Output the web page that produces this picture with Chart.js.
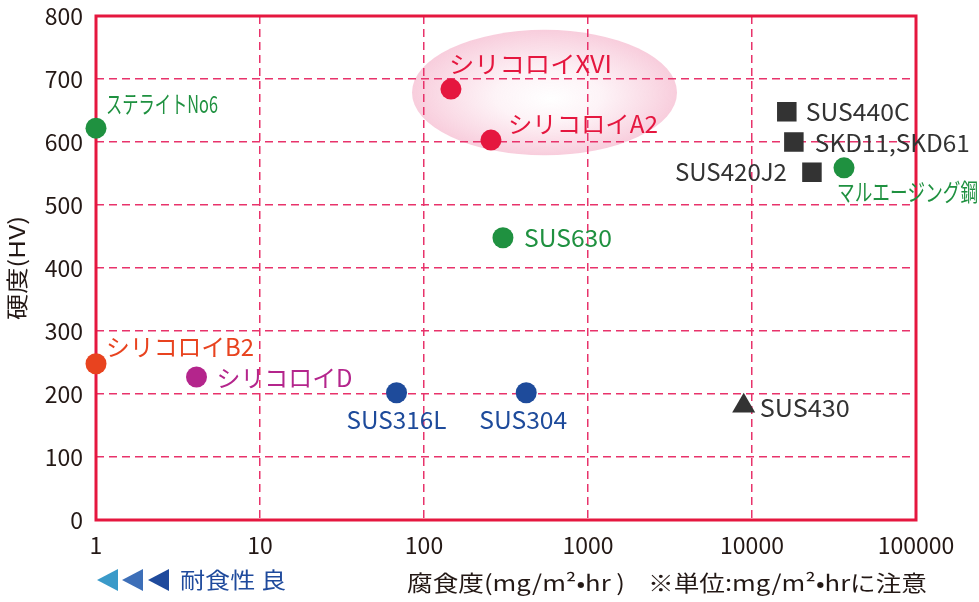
<!DOCTYPE html>
<html><head><meta charset="utf-8">
<script src="https://cdn.jsdelivr.net/npm/chart.js@4.4.0/dist/chart.umd.min.js"></script>
<style>html,body{margin:0;padding:0;background:#fff;}#wrap{width:979px;height:602px;}</style>
</head><body><div id="wrap"><canvas id="c" width="979" height="602"></canvas></div>
<script>
// ---- data ----
const materialNames = ['ステライトNo6','シリコロイXVI','シリコロイA2','SUS440C','SKD11,SKD61','SUS420J2','マルエージング鋼','SUS630','シリコロイB2','シリコロイD','SUS316L','SUS304','SUS430'];
const corrosionRates = [1, 146, 256, 16300, 18000, 23200, 36400, 303, 1, 4.1, 68, 420, 8900];
const hardnessHV = [622, 684, 603, 648, 600, 552, 559, 448, 248, 227, 202, 202, 181];
const markerKinds = ['circle','circle','circle','rect','rect','rect','circle','circle','circle','circle','circle','circle','triangle'];
const materialGroups = ['green','red','red','dark','dark','dark','green','green','orange','magenta','blue','blue','dark'];
const xTickValues = [1, 10, 100, 1000, 10000, 100000];
const yTickValues = [0, 100, 200, 300, 400, 500, 600, 700, 800];
const highlightRegion = { xMin: 84.5, xMax: 3490, yMin: 579, yMax: 778 };
const yAxisTitle = '硬度(HV)';
const xAxisTitle = '腐食度(mg/m²•hr )';
const unitNote = '※単位:mg/m²•hrに注意';
const goodNote = '耐食性 良';

// ---- styles ----
const FONT = "'Noto Sans CJK JP','Noto Sans',sans-serif";
const groupColors = { green:'#1f9140', red:'#e5173f', dark:'#333333', orange:'#e8431f', magenta:'#b4258c', blue:'#1e4b9b' };
const markerRadius = { circle: 10.5, rect: 13.8, triangle: 13.3 };
// label placement relative to marker: dx, dy, align, fitted width
const labelPlacement = [
  {dx:10, dy:-24, align:'left', w:112},
  {dx:-2, dy:-25, align:'left', w:163},
  {dx:17, dy:-16, align:'left', w:150},
  {dx:19, dy:0, align:'left', w:104},
  {dx:21, dy:1, align:'left', w:155},
  {dx:-25, dy:0, align:'right', w:112},
  {dx:-7, dy:24, align:'left', w:141},
  {dx:21, dy:0, align:'left', w:88},
  {dx:10, dy:-17, align:'left', w:148},
  {dx:20, dy:1, align:'left', w:136},
  {dx:0, dy:27, align:'center', w:100},
  {dx:-3, dy:27, align:'center', w:88},
  {dx:16, dy:2, align:'left', w:90}
];

function fitText(ctx, text, x, y, width, align) {
  const m = ctx.measureText(text).width;
  const s = width / m;
  const left = align === 'left' ? x : align === 'right' ? x - width : x - width / 2;
  ctx.save();
  ctx.translate(left, y);
  ctx.scale(s, 1);
  ctx.textAlign = 'left';
  ctx.textBaseline = 'middle';
  ctx.fillText(text, 0, 0);
  ctx.restore();
}

const highlightPlugin = {
  id: 'highlight',
  beforeDraw(chart) {
    const {ctx, scales:{x, y}} = chart;
    const x0 = x.getPixelForValue(highlightRegion.xMin), x1 = x.getPixelForValue(highlightRegion.xMax);
    const y0 = y.getPixelForValue(highlightRegion.yMax), y1 = y.getPixelForValue(highlightRegion.yMin);
    const cx = (x0 + x1) / 2, cy = (y0 + y1) / 2, rx = (x1 - x0) / 2, ry = (y1 - y0) / 2;
    ctx.save();
    ctx.translate(cx, cy);
    ctx.scale(rx, ry);
    const g = ctx.createRadialGradient(0.05, 0.1, 0, 0, 0, 1);
    g.addColorStop(0, 'rgba(232,90,140,0)');
    g.addColorStop(0.4, 'rgba(232,90,140,0.07)');
    g.addColorStop(0.8, 'rgba(232,90,140,0.22)');
    g.addColorStop(1, 'rgba(232,90,140,0.3)');
    ctx.beginPath();
    ctx.arc(0, 0, 1, 0, Math.PI * 2);
    ctx.fillStyle = g;
    ctx.fill();
    ctx.restore();
  }
};

const framePlugin = {
  id: 'frame',
  beforeDatasetsDraw(chart) {
    const {ctx, chartArea:a} = chart;
    ctx.save();
    ctx.strokeStyle = '#e5173f';
    ctx.lineWidth = 3;
    ctx.strokeRect(a.left, a.top, a.right - a.left, a.bottom - a.top);
    ctx.restore();
  }
};

const labelsPlugin = {
  id: 'pointLabels',
  afterDatasetsDraw(chart) {
    const ctx = chart.ctx;
    const meta = chart.getDatasetMeta(0);
    ctx.save();
    ctx.font = `24px ${FONT}`;
    meta.data.forEach((pt, i) => {
      const p = labelPlacement[i];
      ctx.fillStyle = groupColors[materialGroups[i]];
      fitText(ctx, materialNames[i], pt.x + p.dx, pt.y + p.dy, p.w, p.align);
    });
    ctx.restore();
  }
};

const annotationsPlugin = {
  id: 'notes',
  afterDraw(chart) {
    const {ctx} = chart;
    ctx.save();
    ctx.fillStyle = '#231815';
    ctx.font = `22px ${FONT}`;
    ctx.save();
    ctx.translate(17, 268);
    ctx.rotate(-Math.PI / 2);
    fitText(ctx, yAxisTitle, 0, 0, 104, 'center');
    ctx.restore();
    fitText(ctx, xAxisTitle, 407, 583, 218, 'left');
    fitText(ctx, unitNote, 648, 583, 279, 'left');
    const triColors = ['#3a9ac9', '#3d6fb8', '#1f4a9c'];
    const triLeft = [97, 122, 148];
    triLeft.forEach((l, i) => {
      ctx.beginPath();
      ctx.moveTo(l, 580);
      ctx.lineTo(l + 21, 569);
      ctx.lineTo(l + 21, 591);
      ctx.closePath();
      ctx.fillStyle = triColors[i];
      ctx.fill();
    });
    ctx.fillStyle = '#1f4a9c';
    ctx.font = `22px ${FONT}`;
    fitText(ctx, goodNote, 180, 580, 106, 'left');
    ctx.restore();
  }
};

new Chart(document.getElementById('c'), {
  type: 'scatter',
  data: {
    datasets: [{
      data: corrosionRates.map((v, i) => ({x: v, y: hardnessHV[i]})),
      pointStyle: markerKinds,
      pointRadius: markerKinds.map(k => markerRadius[k]),
      pointHoverRadius: markerKinds.map(k => markerRadius[k]),
      backgroundColor: materialGroups.map(g => groupColors[g]),
      borderColor: materialGroups.map(g => groupColors[g]),
      borderWidth: 0,
      clip: false
    }]
  },
  options: {
    responsive: false,
    animation: false,
    devicePixelRatio: 1,
    layout: { padding: { left: 0, top: 16, right: 63, bottom: 0 } },
    plugins: { legend: { display: false }, tooltip: { enabled: false } },
    scales: {
      x: {
        type: 'logarithmic',
        min: 1, max: 100000,
        afterBuildTicks: s => { s.ticks = xTickValues.map(v => ({value: v})); },
        afterFit: s => { s.height = 82; s.paddingLeft = 0; s.paddingRight = 0; },
        ticks: { color: '#231815', font: { family: FONT, size: 23 }, padding: 11, maxRotation: 0, autoSkip: false, callback: v => String(v) },
        grid: { color: '#e8336b', lineWidth: 1.5, drawTicks: false },
        border: { display: false, dash: [8, 5] }
      },
      y: {
        min: 0, max: 800,
        afterBuildTicks: s => { s.ticks = yTickValues.map(v => ({value: v})); },
        afterFit: s => { s.width = 96; s.paddingTop = 0; s.paddingBottom = 0; },
        ticks: { color: '#231815', font: { family: FONT, size: 23 }, padding: 13, callback: v => String(v) },
        grid: { color: '#e8336b', lineWidth: 1.5, drawTicks: false },
        border: { display: false, dash: [8, 5] }
      }
    }
  },
  plugins: [highlightPlugin, framePlugin, labelsPlugin, annotationsPlugin]
});
</script></body></html>
